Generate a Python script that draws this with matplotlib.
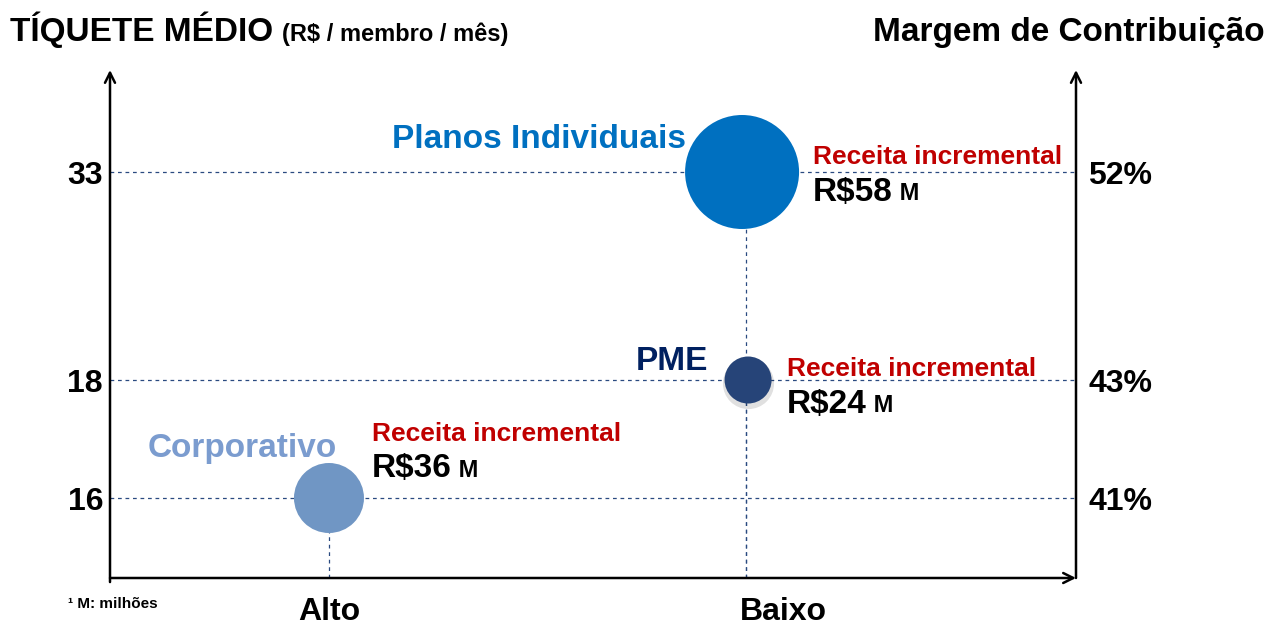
import numpy as np
import matplotlib
matplotlib.use('Agg')
import matplotlib.pyplot as plt
from matplotlib.transforms import ScaledTranslation

plt.rcParams['font.family'] = ['Liberation Sans', 'DejaVu Sans']
plt.rcParams['font.weight'] = 'bold'

# data
segments = ['Planos Individuais', 'PME', 'Corporativo']
x_levels = ['Alto', 'Baixo']
segment_x = ['Baixo', 'Baixo', 'Alto']
ticket = [33, 18, 16]
margin = ['52%', '43%', '41%']
revenue = [58, 24, 36]

# style / layout
bubble_color = ['#0070C0', '#264478', '#7096C4']
name_color = ['#0070C0', '#002060', '#7B9CCF']
bubble_r = [57, 23.5, 35]          # radius in px
bubble_dx = [-4, 2, 0]             # small horizontal nudge in px
name_off = [(-60, 33), (-38, 19), (8, 50)]      # px, right aligned
rev_off = [(67, 15), (41, 11), (43, 64)]        # px, left aligned
xlabel_dx = [0, 37]                              # px
dash_col = '#2A4A80'
red = '#C00000'
PT = 0.72

W, H = 1285, 628
fig = plt.figure(figsize=(W / 100, H / 100), dpi=100)
ax = fig.add_axes([110 / W, 50 / H, 966 / W, 508 / H])

# uneven vertical axis: tick levels placed as in the original slide
knots_v = [14.64, 16, 18, 33, 40.35]
knots_p = [0, 80, 198, 406, 508]


def fwd(v):
    return np.interp(v, knots_v, knots_p)


def inv(p):
    return np.interp(p, knots_p, knots_v)


ax.set_yscale('function', functions=(fwd, inv))
ax.set_ylim(knots_v[0], knots_v[-1])
ax.set_xlim(-0.525, 1.791)

xs = [x_levels.index(s) for s in segment_x]

for y in ticket:
    ax.axhline(y, color=dash_col, lw=0.9, ls=(0, (3, 3)), zorder=1)
for x, y in zip(xs, ticket):
    ax.vlines(x, knots_v[0], y, color=dash_col, lw=0.9, ls=(0, (3, 3)), zorder=1)

for i in range(len(segments)):
    s = (2 * bubble_r[i] * PT) ** 2
    if segments[i] == 'PME':
        # soft shadow under the small bubble
        ax.plot(xs[i], ticket[i], 'o', ms=2 * bubble_r[i] * PT + 3, color='black',
                alpha=0.12, mec='none', zorder=2,
                transform=ax.transData + ScaledTranslation(1.5 / 100, -2.5 / 100,
                                                           fig.dpi_scale_trans))
    ax.scatter(xs[i], ticket[i], s=s, c=bubble_color[i], edgecolors='none', zorder=3,
               transform=ax.transData + ScaledTranslation(bubble_dx[i] / 100, 0,
                                                          fig.dpi_scale_trans))

for i in range(len(segments)):
    ax.annotate(segments[i], (xs[i], ticket[i]),
                xytext=(name_off[i][0] * PT, name_off[i][1] * PT),
                textcoords='offset points', ha='right', va='center',
                fontsize=24, fontweight='bold', color=name_color[i], zorder=4)
    ox, oy = rev_off[i]
    ax.annotate('Receita incremental', (xs[i], ticket[i]),
                xytext=(ox * PT, oy * PT), textcoords='offset points',
                ha='left', va='center', fontsize=19, fontweight='bold',
                color=red, zorder=4)
    t = ax.annotate(f'R${revenue[i]}', (xs[i], ticket[i]),
                    xytext=(ox * PT, (oy - 35) * PT), textcoords='offset points',
                    ha='left', va='center', fontsize=24, fontweight='bold',
                    color='black', zorder=4)
    ax.annotate(' M', xy=(1, 0), xycoords=t, xytext=(0, 2),
                textcoords='offset points', ha='left', va='bottom',
                fontsize=17, fontweight='bold', color='black')

# axes as arrows
for sp in ax.spines.values():
    sp.set_visible(False)
arrow = dict(arrowstyle='->', lw=1.8, color='black', mutation_scale=18,
             shrinkA=0, shrinkB=0)
ax.annotate('', xy=(0, 1), xytext=(0, -0.008), xycoords='axes fraction', arrowprops=arrow)
ax.annotate('', xy=(1, 0), xytext=(0, 0), xycoords='axes fraction', arrowprops=arrow)
ax.annotate('', xy=(1, 1), xytext=(1, 0), xycoords='axes fraction', arrowprops=arrow)

ax.set_yticks(ticket)
ax.set_yticklabels([str(v) for v in ticket])
ax.set_xticks([])
ax.tick_params(axis='y', length=0, pad=5, labelsize=23)
ax.minorticks_off()

for j, lab in enumerate(x_levels):
    ax.annotate(lab, (j, 0), xycoords=('data', 'axes fraction'),
                xytext=(xlabel_dx[j] * PT, -34 * PT), textcoords='offset points',
                ha='center', va='center', fontsize=23, fontweight='bold')

ax2 = ax.twinx()
ax2.set_yscale('function', functions=(fwd, inv))
ax2.set_ylim(knots_v[0], knots_v[-1])
ax2.set_yticks(ticket)
ax2.set_yticklabels(margin)
ax2.tick_params(axis='y', length=0, pad=9, labelsize=23)
ax2.minorticks_off()
for sp in ax2.spines.values():
    sp.set_visible(False)

fig.text(10 / W, 1 - 41 / H, 'TÍQUETE MÉDIO', ha='left', va='baseline',
         fontsize=24, fontweight='bold')
fig.text(282 / W, 1 - 41 / H, '(R$ / membro / mês)', ha='left', va='baseline',
         fontsize=17, fontweight='bold')
fig.text(1265 / W, 1 - 41 / H, 'Margem de Contribuição', ha='right', va='baseline',
         fontsize=24, fontweight='bold')
fig.text(68 / W, 1 - 604 / H, '¹ M: milhões', ha='left', va='center',
         fontsize=11, fontweight='bold')

fig.savefig('out.png', dpi=100)
